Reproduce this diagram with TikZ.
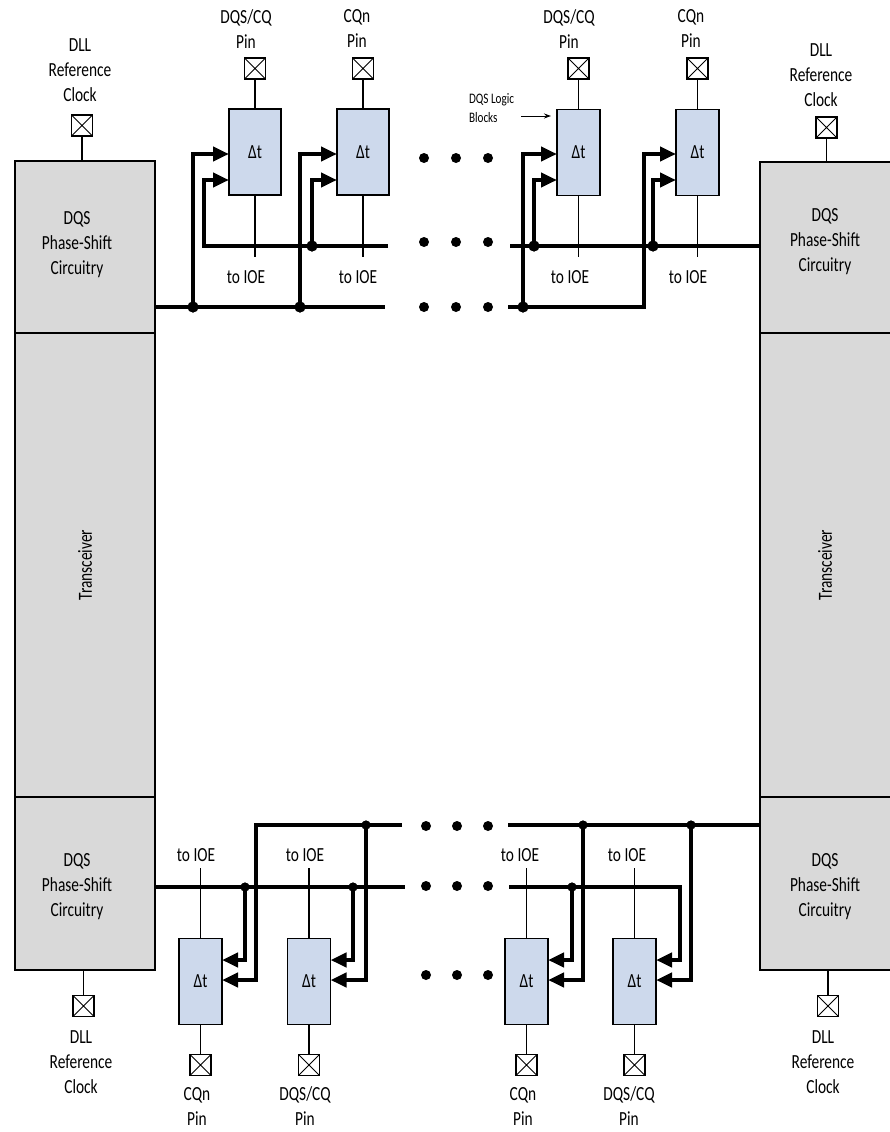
\documentclass[tikz,border=0pt]{standalone}
\usepackage{fontspec}
\setmainfont{Carlito}[FakeStretch=0.77]
\usetikzlibrary{arrows.meta}
\definecolor{psgray}{HTML}{D9D9D9}
\definecolor{dtblue}{HTML}{CDD9EC}
\begin{document}
\begin{tikzpicture}[x=1pt,y=-1pt,
  every node/.style={inner sep=0pt, outer sep=0pt},
  txt/.style={font=\fontsize{20}{25}\selectfont, align=center},
  smalltxt/.style={font=\fontsize{14.5}{19}\selectfont, align=left},
  graybox/.style={draw, line width=1.6pt, fill=psgray},
  dtbox/.style={draw, line width=1.5pt, fill=dtblue, minimum width=43pt, minimum height=86pt, font=\fontsize{20}{25}\selectfont},
  widebox/.style={dtbox, minimum width=52pt},
  pinbox/.style={draw, line width=1.2pt, fill=white, minimum size=21pt,
    path picture={\draw[line width=1pt] (path picture bounding box.north west) -- (path picture bounding box.south east)
      (path picture bounding box.north east) -- (path picture bounding box.south west);}},
  thinline/.style={line width=1.5pt},
  bus/.style={line width=4pt, line join=miter},
  busarrow/.style={line width=4pt, line join=miter, -{Triangle[length=16pt,width=14pt]}},
  jdot/.style={circle, fill=black, minimum size=11pt},
  jdots/.style={circle, fill=black, minimum size=9pt},
  edot/.style={circle, fill=black, minimum size=10pt},
]
\useasboundingbox (0,0) rectangle (890,1132);

% ---- side boxes ----
\node[graybox, minimum width=140pt, minimum height=172pt] (lps) at (85,247) {};
\node[graybox, minimum width=140pt, minimum height=464pt] (ltr) at (85,565) {};
\node[graybox, minimum width=140pt, minimum height=173pt] (lpb) at (85,883.5) {};
\node[graybox, minimum width=136pt, minimum height=171pt] (rps) at (828,247.5) {};
\node[graybox, minimum width=136pt, minimum height=464pt] (rtr) at (828,565) {};
\node[graybox, minimum width=136pt, minimum height=173pt] (rpb) at (828,883.5) {};

\node[txt] (tlps) at (77,245) {DQS\\Phase-Shift\\Circuitry};
\node[txt] (trps) at (825,242) {DQS\\Phase-Shift\\Circuitry};
\node[txt] (tlpb) at (77,887) {DQS\\Phase-Shift\\Circuitry};
\node[txt] (trpb) at (825,887) {DQS\\Phase-Shift\\Circuitry};
\node[txt, rotate=90] (tltr) at (85,565) {Transceiver};
\node[txt, rotate=90] (trtr) at (825,565) {Transceiver};

% ---- DLL reference clocks ----
\node[pinbox] (dlt) at (82,125.5) {};
\node[pinbox] (drt) at (826.5,127.5) {};
\node[pinbox] (dlb) at (83.5,1006) {};
\node[pinbox] (drb) at (828,1006) {};
\draw[thinline] (dlt.south) -- (dlt.south |- lps.north);
\draw[thinline] (drt.south) -- (drt.south |- rps.north);
\draw[thinline] (dlb.north) -- (dlb.north |- lpb.south);
\draw[thinline] (drb.north) -- (drb.north |- rpb.south);
\node[txt] (tdlt) at (80,70) {DLL\\Reference\\Clock};
\node[txt] (tdrt) at (821,75) {DLL\\Reference\\Clock};
\node[txt] (tdlb) at (81,1062) {DLL\\Reference\\Clock};
\node[txt] (tdrb) at (823,1062) {DLL\\Reference\\Clock};

% ---- top logic blocks ----
\node[widebox] (b1) at (255,152) {Δt};
\node[widebox] (b2) at (363,152) {Δt};
\node[dtbox] (b3) at (578.5,152.5) {Δt};
\node[dtbox] (b4) at (697.5,152.5) {Δt};
\node[pinbox] (p1) at (255,68.5) {};
\node[pinbox] (p2) at (363,68.5) {};
\node[pinbox] (p3) at (578.5,68.5) {};
\node[pinbox] (p4) at (697.5,68.5) {};
\draw[thinline] (p1) -- (b1);
\draw[thinline] (p2) -- (b2);
\draw[thinline] (p3) -- (b3);
\draw[thinline] (p4) -- (b4);
\node[txt] (tp1) at (246,29) {DQS/CQ\\Pin};
\node[txt] (tp2) at (357,29) {CQn\\Pin};
\node[txt] (tp3) at (569,29) {DQS/CQ\\Pin};
\node[txt] (tp4) at (691,29) {CQn\\Pin};
\coordinate (io1) at (255,257);
\coordinate (io2) at (363,257);
\coordinate (io3) at (578.5,257);
\coordinate (io4) at (697.5,257);
\draw[thinline] (b1) -- (io1);
\draw[thinline] (b2) -- (io2);
\draw[thinline] (b3) -- (io3);
\draw[thinline] (b4) -- (io4);
\node[txt] (ti1) at (246,277) {to IOE};
\node[txt] (ti2) at (358,277) {to IOE};
\node[txt] (ti3) at (570,277) {to IOE};
\node[txt] (ti4) at (688,277) {to IOE};

\node[smalltxt, anchor=west] (tlog) at (469,108) {DQS Logic\\Blocks};
\coordinate (la1) at (521,116);
\coordinate (la2) at (551,116);
\draw[line width=1pt, -{Stealth[length=7pt,width=5pt]}] (la1) -- (la2);

% ---- top buses ----
\coordinate (yU) at (0,154);
\coordinate (yL) at (0,180);
\coordinate (aL) at (385,307);
\coordinate (bL) at (388,246);
\coordinate (aR) at (508,307);
\coordinate (bR) at (510,246);
\node[jdot] (ja1) at (193,307) {};
\node[jdot] (ja2) at (300,307) {};
\node[jdot] (jb2) at (312,246) {};
\node[jdot] (ja3) at (523,307) {};
\node[jdot] (jb3) at (534,246) {};
\node[jdot] (jb4) at (653,246) {};
\draw[bus] (lps.east |- aL) -- (aL);
\draw[busarrow] (ja1.center) -- (ja1.center |- yU) -- (b1.west |- yU);
\draw[busarrow] (ja2.center) -- (ja2.center |- yU) -- (b2.west |- yU);
\draw[busarrow] (bL) -- (204,246) -- (204,180) -- (b1.west |- yL);
\draw[busarrow] (jb2.center) -- (jb2.center |- yL) -- (b2.west |- yL);
\draw[busarrow] (aR) -- (644,307) -- (644,154) -- (b4.west |- yU);
\draw[busarrow] (ja3.center) -- (ja3.center |- yU) -- (b3.west |- yU);
\draw[bus] (bR) -- (rps.west |- bR);
\draw[busarrow] (jb3.center) -- (jb3.center |- yL) -- (b3.west |- yL);
\draw[busarrow] (jb4.center) -- (jb4.center |- yL) -- (b4.west |- yL);
\node[jdot] at (ja1) {};
\node[jdot] at (ja2) {};
\node[jdot] at (jb2) {};
\node[jdot] at (ja3) {};
\node[jdot] at (jb3) {};
\node[jdot] at (jb4) {};

% ellipsis dots top
\foreach \x/\n in {424/1,456/2,488/3}{
  \node[edot] (eu\n) at (\x,158) {};
  \node[edot] (em\n) at (\x,242) {};
  \node[edot] (el\n) at (\x,307) {};
}

% ---- bottom logic blocks ----
\node[dtbox] (c1) at (200.5,981.5) {Δt};
\node[dtbox] (c2) at (309,981.5) {Δt};
\node[dtbox] (c3) at (526.5,981.5) {Δt};
\node[dtbox] (c4) at (634.5,981.5) {Δt};
\node[pinbox] (q1) at (200.5,1065) {};
\node[pinbox] (q2) at (309,1065) {};
\node[pinbox] (q3) at (526.5,1065) {};
\node[pinbox] (q4) at (634.5,1065) {};
\draw[thinline] (c1) -- (q1);
\draw[thinline] (c2) -- (q2);
\draw[thinline] (c3) -- (q3);
\draw[thinline] (c4) -- (q4);
\node[txt] (tq1) at (197,1106) {CQn\\Pin};
\node[txt] (tq2) at (305,1106) {DQS/CQ\\Pin};
\node[txt] (tq3) at (523,1106) {CQn\\Pin};
\node[txt] (tq4) at (629,1106) {DQS/CQ\\Pin};
\coordinate (jo1) at (200.5,868);
\coordinate (jo2) at (309,868);
\coordinate (jo3) at (526.5,868);
\coordinate (jo4) at (634.5,868);
\draw[thinline] (c1) -- (jo1);
\draw[thinline] (c2) -- (jo2);
\draw[thinline] (c3) -- (jo3);
\draw[thinline] (c4) -- (jo4);
\node[txt] (tj1) at (196,855) {to IOE};
\node[txt] (tj2) at (305,855) {to IOE};
\node[txt] (tj3) at (520,855) {to IOE};
\node[txt] (tj4) at (627,855) {to IOE};

% ---- bottom buses ----
\coordinate (yI) at (0,960);
\coordinate (yO) at (0,980);
\coordinate (cL) at (402,825);
\coordinate (dL) at (405,887);
\coordinate (cR) at (508,825);
\coordinate (dR) at (509,887);
\node[jdots] (jd1) at (245,887) {};
\node[jdots] (jd2) at (353,887) {};
\node[jdots] (jc2) at (366,825) {};
\node[jdots] (jc3) at (583,825) {};
\node[jdots] (jc4) at (691,825) {};
\node[jdots] (jd3) at (572,887) {};
\draw[bus] (lpb.east |- dL) -- (dL);
\draw[busarrow] (jd1.center) -- (jd1.center |- yI) -- (c1.east |- yI);
\draw[busarrow] (jd2.center) -- (jd2.center |- yI) -- (c2.east |- yI);
\draw[busarrow] (cL) -- (256,825) -- (256,980) -- (c1.east |- yO);
\draw[busarrow] (jc2.center) -- (jc2.center |- yO) -- (c2.east |- yO);
\draw[bus] (cR) -- (rpb.west |- cR);
\draw[busarrow] (jc3.center) -- (jc3.center |- yO) -- (c3.east |- yO);
\draw[busarrow] (jc4.center) -- (jc4.center |- yO) -- (c4.east |- yO);
\draw[busarrow] (dR) -- (680,887) -- (680,960) -- (c4.east |- yI);
\draw[busarrow] (jd3.center) -- (jd3.center |- yI) -- (c3.east |- yI);
\node[jdots] at (jd1) {};
\node[jdots] at (jd2) {};
\node[jdots] at (jc2) {};
\node[jdots] at (jc3) {};
\node[jdots] at (jc4) {};
\node[jdots] at (jd3) {};

% ellipsis dots bottom
\foreach \x/\n in {426/1,457/2,488/3}{
  \node[edot] (fu\n) at (\x,826) {};
  \node[edot] (fm\n) at (\x,886) {};
  \node[edot] (fl\n) at (\x,975) {};
}
\end{tikzpicture}
\end{document}
